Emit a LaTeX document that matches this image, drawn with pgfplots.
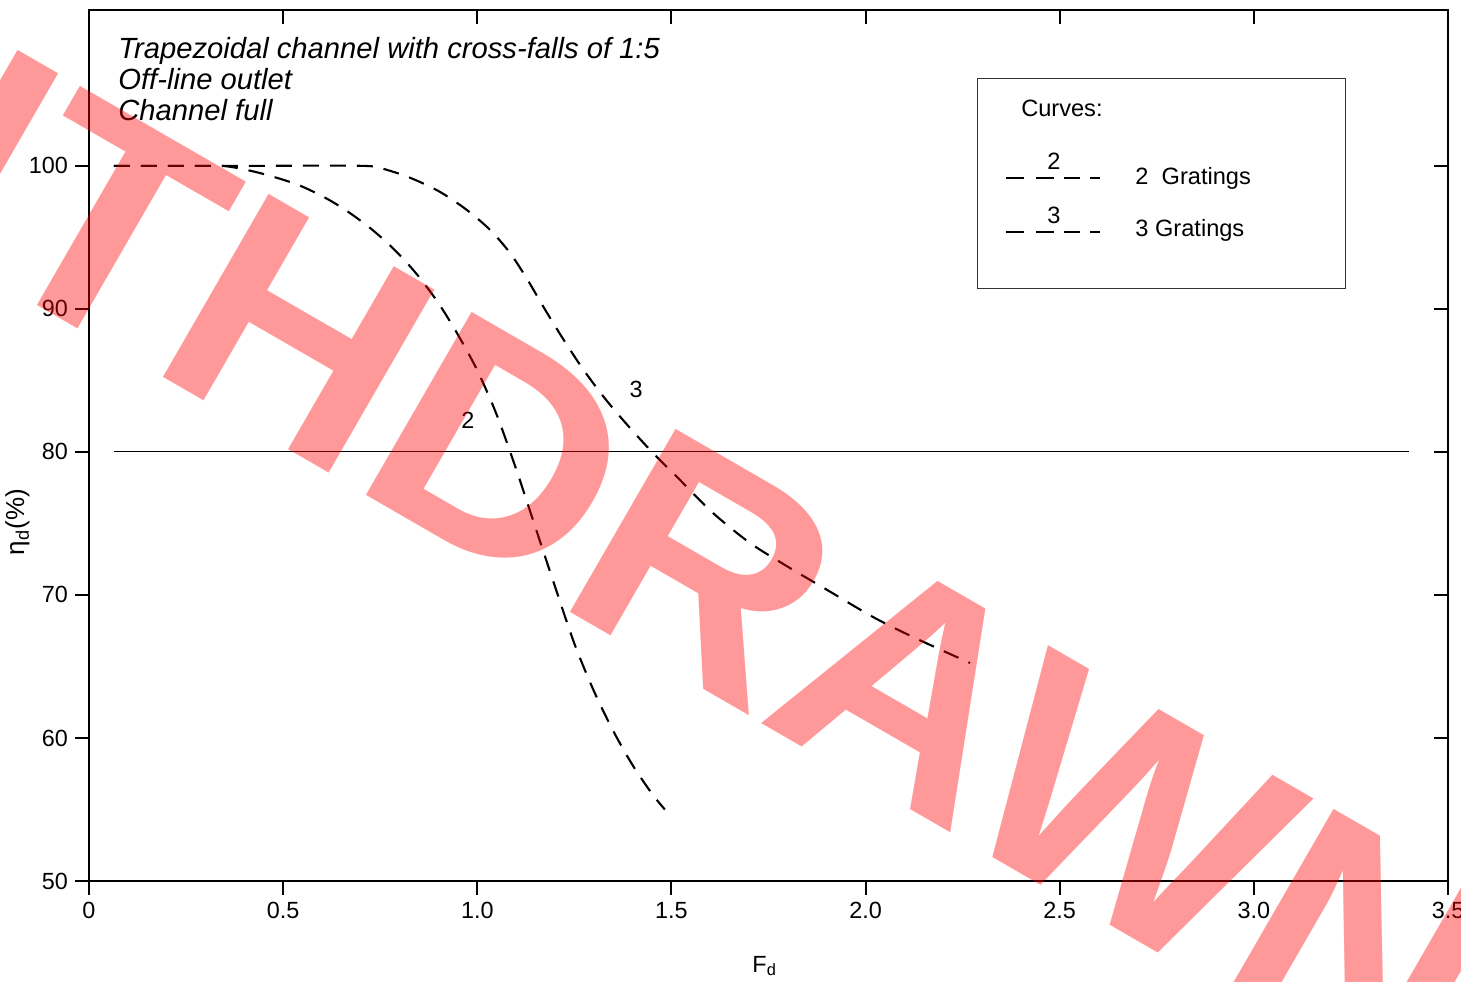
\documentclass[border=0pt]{standalone}
\usepackage{fontspec}
\setmainfont{Liberation Sans}
\usepackage{pgfplots}
\pgfplotsset{compat=1.18}
\begin{document}
\begin{tikzpicture}
\pgfplotsset{
  common/.style={
    at={(0,0)}, anchor=south west,
    scale only axis, width=679.5pt, height=435.5pt,
    xmin=0, xmax=3.5, ymin=50, ymax=110.9,
    xtick={0,0.5,1,1.5,2,2.5,3,3.5},
    ytick={50,60,70,80,90,100},
    axis line style={line width=1pt},
    major tick length=7pt,
    tick style={black, line width=1pt},
    minor tick num=0,
    tick label style={font=\fontsize{11.7pt}{14pt}\selectfont},
    /pgf/number format/assume math mode=true,
  }
}
\begin{axis}[common, tick align=inside, xtick pos=top, ytick pos=right,
  xticklabels={}, yticklabels={}]
\end{axis}
\begin{axis}[common, tick align=outside, xtick pos=bottom, ytick pos=left,
  clip=false,
  xticklabels={0,0.5,1.0,1.5,2.0,2.5,3.0,3.5},
  xlabel={F\textsubscript{d}},
  xlabel style={at={(axis description cs:0.4879,-0.1045)}, anchor=base west,
    inner sep=0pt, font=\fontsize{11.7pt}{14pt}\selectfont},
  ylabel={η\textsubscript{d}(\%)},
  ylabel style={at={(axis description cs:-0.0478,0.412)}, anchor=base,
    inner sep=0pt, rotate=0, font=\fontsize{13pt}{15pt}\selectfont},
]
% reference line at 80 %
\addplot[black, line width=0.5pt] coordinates {(0.064,80) (3.40,80)};
% curve 2: 2 gratings
\addplot[black, line width=1.05pt, dash pattern=on 8pt off 5.5pt, smooth] coordinates {
(0.064,100) (0.30,100) (0.36,99.95) (0.44,99.5) (0.536,98.7) (0.613,97.7)
(0.672,96.7) (0.731,95.5) (0.788,94.1) (0.845,92.4) (0.90,90.4) (0.95,88.2)
(1.00,85.7) (1.05,82.6) (1.10,78.8) (1.15,74.7) (1.20,70.6) (1.25,66.6)
(1.30,63.3) (1.35,60.5) (1.40,58.1) (1.45,56.1) (1.483,55.0)};
% curve 3: 3 gratings
\addplot[black, line width=1.05pt, dash pattern=on 8pt off 5.5pt, smooth] coordinates {
(0.064,100) (0.40,100) (0.706,100) (0.767,99.72) (0.834,99.09) (0.904,98.18)
(0.973,96.92) (1.033,95.52) (1.084,93.92) (1.128,92.1) (1.169,90.2)
(1.221,87.9) (1.272,85.8) (1.324,83.9) (1.375,82.24) (1.445,80.14)
(1.522,78.04) (1.607,75.73) (1.702,73.64) (1.798,72.0) (1.901,70.35)
(2.019,68.46) (2.122,67.06) (2.269,65.24)};
% curve labels
\node[font=\fontsize{11.7pt}{14pt}\selectfont] at (axis cs:0.976,82.24) {2};
\node[font=\fontsize{11.7pt}{14pt}\selectfont] at (axis cs:1.409,84.4) {3};
% title text
\node[anchor=base west, inner sep=0pt, font=\fontsize{14.6pt}{16pt}\selectfont\itshape]
  at (axis cs:0.0747,107.48) {Trapezoidal channel with cross-falls of 1:5};
\node[anchor=base west, inner sep=0pt, font=\fontsize{14.6pt}{16pt}\selectfont\itshape]
  at (axis cs:0.0747,105.31) {Off-line outlet};
\node[anchor=base west, inner sep=0pt, font=\fontsize{14.6pt}{16pt}\selectfont\itshape]
  at (axis cs:0.0747,103.15) {Channel full};
% legend box
\draw[line width=0.5pt, black!80] (axis cs:2.289,106.08) rectangle (axis cs:3.235,91.4);
\node[anchor=base west, inner sep=0pt, font=\fontsize{11.8pt}{14pt}\selectfont]
  at (axis cs:2.400,103.43) {Curves:};
\draw[black, line width=1.05pt, dash pattern=on 9pt off 6pt on 9pt off 5pt on 8pt off 5pt on 5pt off 6pt on 5pt off 10pt]
  (axis cs:2.362,99.16) -- (axis cs:2.611,99.16);
\node[anchor=base, inner sep=0pt, font=\fontsize{11.8pt}{14pt}\selectfont]
  at (axis cs:2.485,99.75) {2};
\node[anchor=base west, inner sep=0pt, font=\fontsize{11.8pt}{14pt}\selectfont]
  at (axis cs:2.694,98.67) {2\ \ Gratings};
\draw[black, line width=1.05pt, dash pattern=on 9pt off 6pt on 9pt off 5pt on 8pt off 5pt on 5pt off 6pt on 5pt off 10pt]
  (axis cs:2.362,95.38) -- (axis cs:2.611,95.38);
\node[anchor=base, inner sep=0pt, font=\fontsize{11.8pt}{14pt}\selectfont]
  at (axis cs:2.485,95.95) {3};
\node[anchor=base west, inner sep=0pt, font=\fontsize{11.8pt}{14pt}\selectfont]
  at (axis cs:2.694,95.03) {3 Gratings};
% helper coordinates
\coordinate (wm) at (axis cs:1.11,70.77);
\coordinate (bbll) at (rel axis cs:-0.06549,-0.11596);
\coordinate (bbur) at (rel axis cs:1.00957,1.01148);
\end{axis}
\node[overlay, anchor=base, inner sep=0pt, rotate=-30, xscale=1.06, text=red, text opacity=0.4,
  font=\fontsize{153.6pt}{160pt}\selectfont\bfseries] at (wm) {WITHDRAWN};
\pgfresetboundingbox
\path[use as bounding box] (bbll) rectangle (bbur);
\end{tikzpicture}
\end{document}
